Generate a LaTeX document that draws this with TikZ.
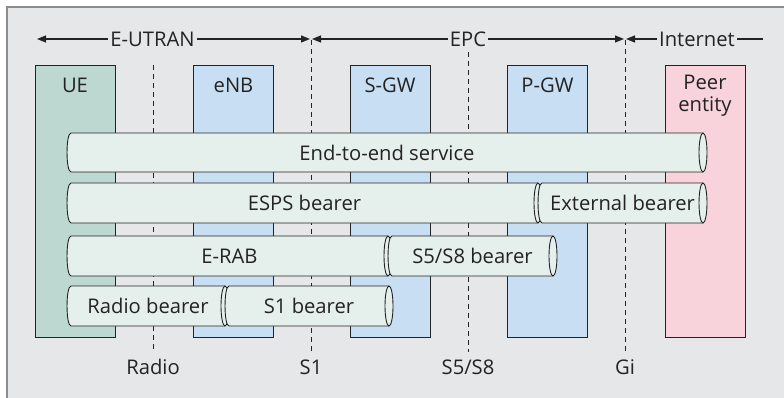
\documentclass[tikz,border=0pt]{standalone}
\usepackage{fontspec}
\setmainfont{Open Sans}
\usetikzlibrary{arrows.meta}
\definecolor{bgcol}{HTML}{E6E7E9}
\definecolor{framecol}{HTML}{8C8C8C}
\definecolor{uecol}{HTML}{BDD7D1}
\definecolor{nodecol}{HTML}{C8DEF3}
\definecolor{peercol}{HTML}{F8D3DB}
\definecolor{pipecol}{HTML}{E5EFEC}
\definecolor{inkcol}{HTML}{232323}
\tikzset{
  box/.style={draw=inkcol, line width=0.9pt, minimum width=80pt, minimum height=272pt, anchor=north, inner sep=0pt},
  boxtext/.style={text=inkcol, anchor=center, align=center, font=\fontsize{20.2}{22}\selectfont},
  toptext/.style={text=inkcol, inner sep=2pt, font=\fontsize{20.2}{22}\selectfont},
  arr/.style={draw=inkcol, line width=1.1pt, -{Triangle[length=9pt,width=7pt]}},
  plainline/.style={draw=inkcol, line width=1.1pt},
  dashline/.style={draw=inkcol, line width=0.9pt, dash pattern=on 5pt off 4pt},
  pipeline/.style={draw=inkcol, line width=0.9pt},
  pipetext/.style={text=inkcol, font=\fontsize{20.2}{22}\selectfont},
}
\newcommand\mypipe[6]{%
  \path[fill=pipecol] (#2,#4) -- (#3,#4) -- (#3,#5) -- (#2,#5) .. controls ({#2-5.3},#5) and ({#2-5.3},#4) .. (#2,#4) -- cycle;
  \draw[pipeline] (#3,#4) -- (#2,#4) .. controls ({#2-5.3},#4) and ({#2-5.3},#5) .. (#2,#5) -- (#3,#5);
  \draw[pipeline, fill=pipecol] (#3,{(#4+#5)/2}) ellipse [x radius=4, y radius={(#5-#4)/2}];
  \node[pipetext] (#1) at ({(#2+#3)/2},{(#4+#5)/2}) {#6};
}
\begin{document}
\begin{tikzpicture}[x=1pt,y=-1pt]
\useasboundingbox (0,0) rectangle (784,398);
\fill[white] (0,0) rectangle (784,398);
\draw[draw=framecol, line width=2pt, fill=bgcol] (7,7) rectangle (800,412);

% dashed reference lines
\coordinate (radiotop) at (153,65);  \coordinate (radiobot) at (153,352);
\coordinate (s1top) at (311,40);     \coordinate (s1bot) at (311,352);
\coordinate (s5top) at (468,52);     \coordinate (s5bot) at (468,352);
\coordinate (gitop) at (625,40);     \coordinate (gibot) at (625,352);
\draw[dashline] (radiotop) -- (radiobot);
\draw[dashline] (s1top) -- (s1bot);
\draw[dashline] (s5top) -- (s5bot);
\draw[dashline] (gitop) -- (gibot);

% domain arrows
\node[toptext] (eutran) at (152.5,39) {E-UTRAN};
\node[toptext] (epc) at (468,39) {EPC};
\node[toptext] (internet) at (697,39) {Internet};
\coordinate (eutranL) at (37,39);  \coordinate (eutranR) at (310,39);
\coordinate (epcL) at (312,39);    \coordinate (epcR) at (624,39);
\coordinate (internetL) at (626,39); \coordinate (internetR) at (763,39);
\draw[arr] (eutran.west) -- (eutranL);
\draw[arr] (eutran.east) -- (eutranR);
\draw[arr] (epc.west) -- (epcL);
\draw[arr] (epc.east) -- (epcR);
\draw[arr] (internet.west) -- (internetL);
\draw[plainline] (internet.east) -- (internetR);

% entity boxes
\node[box, fill=uecol] (ue) at (75,65) {};
\node[box, fill=nodecol] (enb) at (233.5,65) {};
\node[box, fill=nodecol] (sgw) at (390,65) {};
\node[box, fill=nodecol] (pgw) at (547.5,65) {};
\node[box, fill=peercol] (peer) at (705,65) {};
\node[boxtext] (uet) at (75,85) {UE};
\node[boxtext] (enbt) at (233.5,85) {eNB};
\node[boxtext] (sgwt) at (390,85) {S-GW};
\node[boxtext] (pgwt) at (547.5,85) {P-GW};
\node[boxtext] (peert) at (705,96) {Peer\\entity};

% bearers
\mypipe{e2e}{71}{703}{133}{172}{End-to-end service}
\mypipe{esps}{71}{538}{183}{223}{ESPS bearer}
\mypipe{ext}{542}{703}{183}{223}{External bearer}
\mypipe{erab}{71}{388}{236}{276}{E-RAB}
\mypipe{s5b}{392}{553}{236}{276}{S5/S8 bearer}
\mypipe{rb}{71}{225}{286}{326}{Radio bearer}
\mypipe{s1b}{229}{389}{286}{326}{S1 bearer}

% interface labels
\node[pipetext] (lradio) at (153,367) {Radio};
\node[pipetext] (ls1) at (311,367) {S1};
\node[pipetext] (ls5) at (468,367) {S5/S8};
\node[pipetext] (lgi) at (625,367) {Gi};
\end{tikzpicture}
\end{document}
